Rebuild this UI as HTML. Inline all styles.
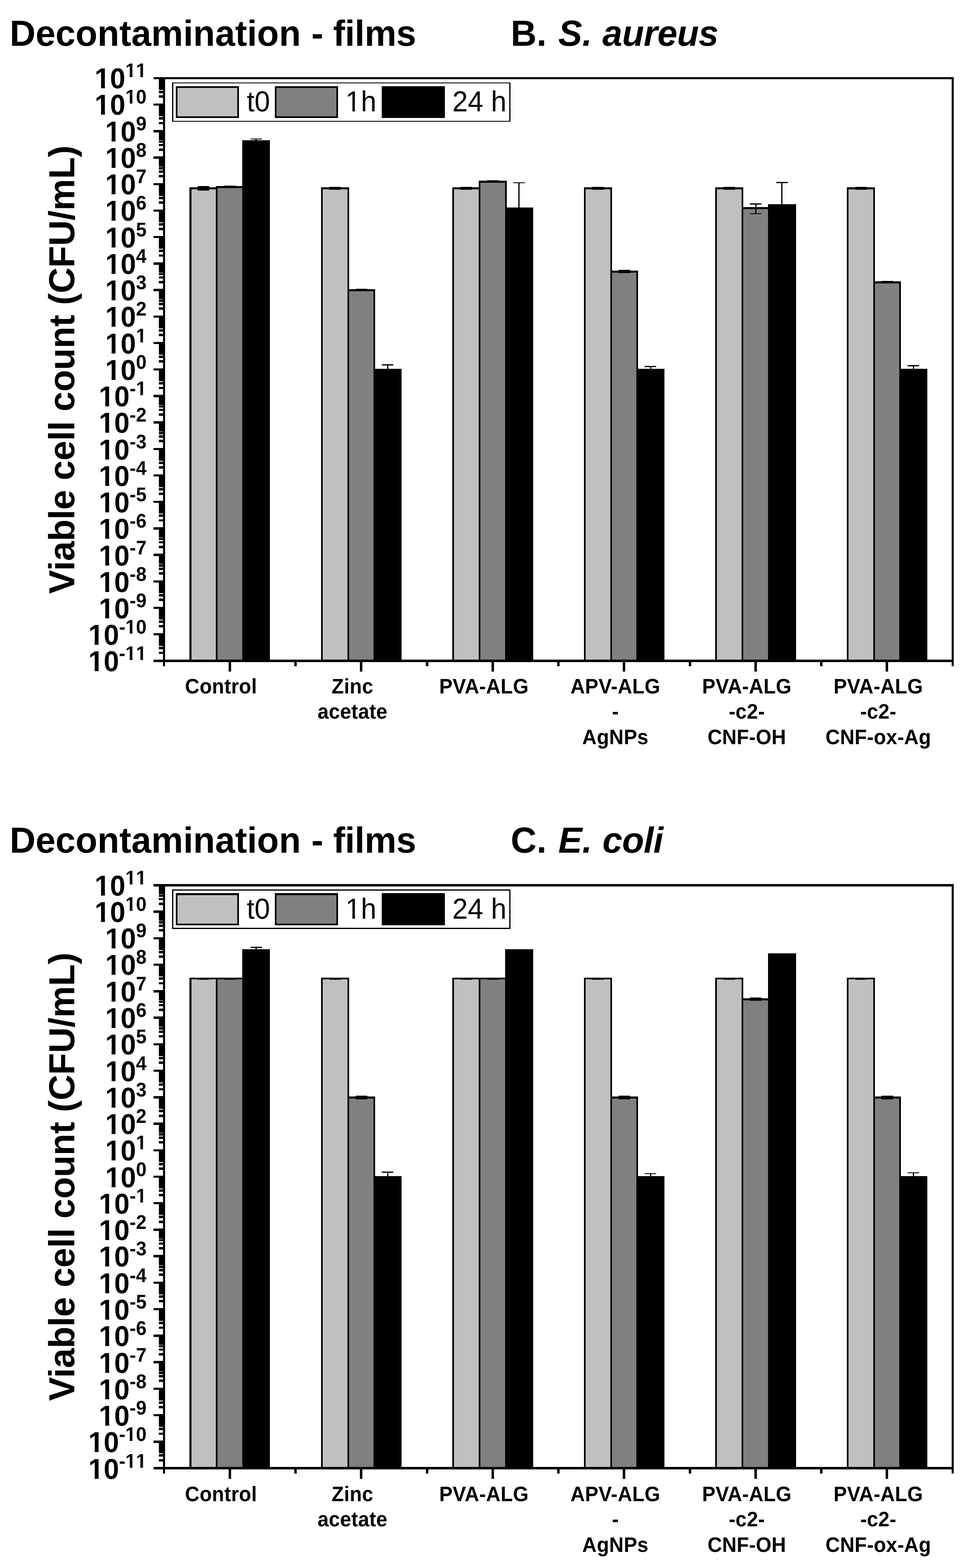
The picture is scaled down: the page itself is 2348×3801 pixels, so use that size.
<!DOCTYPE html>
<html lang="en"><head><meta charset="utf-8"><title>Decontamination - films</title>
<style>html,body{margin:0;padding:0;background:#fff}body{width:2348px;height:3801px;overflow:hidden}svg{display:block}text{font-family:'Liberation Sans', Arial, Helvetica, sans-serif;fill:#000}.tk{font-kerning:none}</style>
</head><body>
<svg width="2348" height="3801" viewBox="0 0 2348 3801" shape-rendering="crispEdges" text-rendering="geometricPrecision">
<defs><clipPath id="e11"><path clip-rule="evenodd" d="M-300 -150H60V60H-300ZM-123.36 -7.78H-110.16V3.35H-123.36ZM-100.77 -7.78H-88.99V3.35H-100.77ZM-49.56 -31.28H-40.5V-23.64H-49.56ZM-34.05 -31.28H-25.96V-23.64H-34.05ZM-23.98 -31.28H-14.92V-23.64H-23.98ZM-8.47 -31.28H-0.38V-23.64H-8.47Z"/></clipPath><clipPath id="e10"><path clip-rule="evenodd" d="M-300 -150H60V60H-300ZM-123.36 -7.78H-110.16V3.35H-123.36ZM-100.77 -7.78H-88.99V3.35H-100.77ZM-49.56 -31.28H-40.5V-23.64H-49.56ZM-34.05 -31.28H-25.96V-23.64H-34.05Z"/></clipPath><clipPath id="e9"><path clip-rule="evenodd" d="M-300 -150H60V60H-300ZM-97.77 -7.78H-84.58V3.35H-97.77ZM-75.18 -7.78H-63.4V3.35H-75.18Z"/></clipPath><clipPath id="e8"><path clip-rule="evenodd" d="M-300 -150H60V60H-300ZM-97.77 -7.78H-84.58V3.35H-97.77ZM-75.18 -7.78H-63.4V3.35H-75.18Z"/></clipPath><clipPath id="e7"><path clip-rule="evenodd" d="M-300 -150H60V60H-300ZM-97.77 -7.78H-84.58V3.35H-97.77ZM-75.18 -7.78H-63.4V3.35H-75.18Z"/></clipPath><clipPath id="e6"><path clip-rule="evenodd" d="M-300 -150H60V60H-300ZM-97.77 -7.78H-84.58V3.35H-97.77ZM-75.18 -7.78H-63.4V3.35H-75.18Z"/></clipPath><clipPath id="e5"><path clip-rule="evenodd" d="M-300 -150H60V60H-300ZM-97.77 -7.78H-84.58V3.35H-97.77ZM-75.18 -7.78H-63.4V3.35H-75.18Z"/></clipPath><clipPath id="e4"><path clip-rule="evenodd" d="M-300 -150H60V60H-300ZM-97.77 -7.78H-84.58V3.35H-97.77ZM-75.18 -7.78H-63.4V3.35H-75.18Z"/></clipPath><clipPath id="e3"><path clip-rule="evenodd" d="M-300 -150H60V60H-300ZM-97.77 -7.78H-84.58V3.35H-97.77ZM-75.18 -7.78H-63.4V3.35H-75.18Z"/></clipPath><clipPath id="e2"><path clip-rule="evenodd" d="M-300 -150H60V60H-300ZM-97.77 -7.78H-84.58V3.35H-97.77ZM-75.18 -7.78H-63.4V3.35H-75.18Z"/></clipPath><clipPath id="e1"><path clip-rule="evenodd" d="M-300 -150H60V60H-300ZM-97.77 -7.78H-84.58V3.35H-97.77ZM-75.18 -7.78H-63.4V3.35H-75.18ZM-23.98 -31.28H-14.92V-23.64H-23.98ZM-8.47 -31.28H-0.38V-23.64H-8.47Z"/></clipPath><clipPath id="e0"><path clip-rule="evenodd" d="M-300 -150H60V60H-300ZM-97.77 -7.78H-84.58V3.35H-97.77ZM-75.18 -7.78H-63.4V3.35H-75.18Z"/></clipPath><clipPath id="em1"><path clip-rule="evenodd" d="M-300 -150H60V60H-300ZM-113.09 -7.78H-99.9V3.35H-113.09ZM-90.5 -7.78H-78.72V3.35H-90.5ZM-23.98 -31.28H-14.92V-23.64H-23.98ZM-8.47 -31.28H-0.38V-23.64H-8.47Z"/></clipPath><clipPath id="em2"><path clip-rule="evenodd" d="M-300 -150H60V60H-300ZM-113.09 -7.78H-99.9V3.35H-113.09ZM-90.5 -7.78H-78.72V3.35H-90.5Z"/></clipPath><clipPath id="em3"><path clip-rule="evenodd" d="M-300 -150H60V60H-300ZM-113.09 -7.78H-99.9V3.35H-113.09ZM-90.5 -7.78H-78.72V3.35H-90.5Z"/></clipPath><clipPath id="em4"><path clip-rule="evenodd" d="M-300 -150H60V60H-300ZM-113.09 -7.78H-99.9V3.35H-113.09ZM-90.5 -7.78H-78.72V3.35H-90.5Z"/></clipPath><clipPath id="em5"><path clip-rule="evenodd" d="M-300 -150H60V60H-300ZM-113.09 -7.78H-99.9V3.35H-113.09ZM-90.5 -7.78H-78.72V3.35H-90.5Z"/></clipPath><clipPath id="em6"><path clip-rule="evenodd" d="M-300 -150H60V60H-300ZM-113.09 -7.78H-99.9V3.35H-113.09ZM-90.5 -7.78H-78.72V3.35H-90.5Z"/></clipPath><clipPath id="em7"><path clip-rule="evenodd" d="M-300 -150H60V60H-300ZM-113.09 -7.78H-99.9V3.35H-113.09ZM-90.5 -7.78H-78.72V3.35H-90.5Z"/></clipPath><clipPath id="em8"><path clip-rule="evenodd" d="M-300 -150H60V60H-300ZM-113.09 -7.78H-99.9V3.35H-113.09ZM-90.5 -7.78H-78.72V3.35H-90.5Z"/></clipPath><clipPath id="em9"><path clip-rule="evenodd" d="M-300 -150H60V60H-300ZM-113.09 -7.78H-99.9V3.35H-113.09ZM-90.5 -7.78H-78.72V3.35H-90.5Z"/></clipPath><clipPath id="em10"><path clip-rule="evenodd" d="M-300 -150H60V60H-300ZM-138.67 -7.78H-125.48V3.35H-138.67ZM-116.09 -7.78H-104.3V3.35H-116.09ZM-49.56 -31.28H-40.5V-23.64H-49.56ZM-34.05 -31.28H-25.96V-23.64H-34.05Z"/></clipPath><clipPath id="em11"><path clip-rule="evenodd" d="M-300 -150H60V60H-300ZM-138.67 -7.78H-125.48V3.35H-138.67ZM-116.09 -7.78H-104.3V3.35H-116.09ZM-49.56 -31.28H-40.5V-23.64H-49.56ZM-34.05 -31.28H-25.96V-23.64H-34.05ZM-23.98 -31.28H-14.92V-23.64H-23.98ZM-8.47 -31.28H-0.38V-23.64H-8.47Z"/></clipPath><clipPath id="lg"><path clip-rule="evenodd" d="M-20 -150H200V60H-20ZM2.36 -5.99H16.87V3.38H2.36ZM23.04 -5.99H36.99V3.38H23.04Z"/></clipPath></defs>
<rect x="0" y="0" width="2348" height="3801" fill="#fff"/>
<g id="chart-b">
<text transform="translate(23.4,110.9) scale(1,1.015)" font-size="86.8" font-weight="bold"><tspan letter-spacing="0.11">Decontamination</tspan><tspan dx="1.2"> -</tspan><tspan dx="0" letter-spacing="-0.3"> films</tspan></text>
<text transform="translate(1237.6,110.9) scale(1,1.015)" font-size="86.8" font-weight="bold">B. <tspan font-style="italic" dx="4.3">S.</tspan><tspan font-style="italic" dx="1.5" letter-spacing="-0.66"> aureus</tspan></text>
<text transform="translate(180,1439.5) rotate(-90) scale(1,1.015)" font-size="86.6" font-weight="bold" letter-spacing="-0.33">Viable cell count (CFU/mL)</text>
<text class="tk" transform="translate(355,214.1) scale(1,1.0407)" text-anchor="end" font-size="67" font-weight="bold" clip-path="url(#e11)">10<tspan font-size="46" dy="-25.94">11</tspan></text>
<text class="tk" transform="translate(355,278.35) scale(1,1.0407)" text-anchor="end" font-size="67" font-weight="bold" clip-path="url(#e10)">10<tspan font-size="46" dy="-25.94">10</tspan></text>
<text class="tk" transform="translate(355,342.59) scale(1,1.0407)" text-anchor="end" font-size="67" font-weight="bold" clip-path="url(#e9)">10<tspan font-size="46" dy="-25.94">9</tspan></text>
<text class="tk" transform="translate(355,406.84) scale(1,1.0407)" text-anchor="end" font-size="67" font-weight="bold" clip-path="url(#e8)">10<tspan font-size="46" dy="-25.94">8</tspan></text>
<text class="tk" transform="translate(355,471.08) scale(1,1.0407)" text-anchor="end" font-size="67" font-weight="bold" clip-path="url(#e7)">10<tspan font-size="46" dy="-25.94">7</tspan></text>
<text class="tk" transform="translate(355,535.33) scale(1,1.0407)" text-anchor="end" font-size="67" font-weight="bold" clip-path="url(#e6)">10<tspan font-size="46" dy="-25.94">6</tspan></text>
<text class="tk" transform="translate(355,599.57) scale(1,1.0407)" text-anchor="end" font-size="67" font-weight="bold" clip-path="url(#e5)">10<tspan font-size="46" dy="-25.94">5</tspan></text>
<text class="tk" transform="translate(355,663.82) scale(1,1.0407)" text-anchor="end" font-size="67" font-weight="bold" clip-path="url(#e4)">10<tspan font-size="46" dy="-25.94">4</tspan></text>
<text class="tk" transform="translate(355,728.06) scale(1,1.0407)" text-anchor="end" font-size="67" font-weight="bold" clip-path="url(#e3)">10<tspan font-size="46" dy="-25.94">3</tspan></text>
<text class="tk" transform="translate(355,792.31) scale(1,1.0407)" text-anchor="end" font-size="67" font-weight="bold" clip-path="url(#e2)">10<tspan font-size="46" dy="-25.94">2</tspan></text>
<text class="tk" transform="translate(355,856.55) scale(1,1.0407)" text-anchor="end" font-size="67" font-weight="bold" clip-path="url(#e1)">10<tspan font-size="46" dy="-25.94">1</tspan></text>
<text class="tk" transform="translate(355,920.8) scale(1,1.0407)" text-anchor="end" font-size="67" font-weight="bold" clip-path="url(#e0)">10<tspan font-size="46" dy="-25.94">0</tspan></text>
<text class="tk" transform="translate(355,985.04) scale(1,1.0407)" text-anchor="end" font-size="67" font-weight="bold" clip-path="url(#em1)">10<tspan font-size="46" dy="-25.94">-1</tspan></text>
<text class="tk" transform="translate(355,1049.28) scale(1,1.0407)" text-anchor="end" font-size="67" font-weight="bold" clip-path="url(#em2)">10<tspan font-size="46" dy="-25.94">-2</tspan></text>
<text class="tk" transform="translate(355,1113.53) scale(1,1.0407)" text-anchor="end" font-size="67" font-weight="bold" clip-path="url(#em3)">10<tspan font-size="46" dy="-25.94">-3</tspan></text>
<text class="tk" transform="translate(355,1177.77) scale(1,1.0407)" text-anchor="end" font-size="67" font-weight="bold" clip-path="url(#em4)">10<tspan font-size="46" dy="-25.94">-4</tspan></text>
<text class="tk" transform="translate(355,1242.02) scale(1,1.0407)" text-anchor="end" font-size="67" font-weight="bold" clip-path="url(#em5)">10<tspan font-size="46" dy="-25.94">-5</tspan></text>
<text class="tk" transform="translate(355,1306.27) scale(1,1.0407)" text-anchor="end" font-size="67" font-weight="bold" clip-path="url(#em6)">10<tspan font-size="46" dy="-25.94">-6</tspan></text>
<text class="tk" transform="translate(355,1370.51) scale(1,1.0407)" text-anchor="end" font-size="67" font-weight="bold" clip-path="url(#em7)">10<tspan font-size="46" dy="-25.94">-7</tspan></text>
<text class="tk" transform="translate(355,1434.75) scale(1,1.0407)" text-anchor="end" font-size="67" font-weight="bold" clip-path="url(#em8)">10<tspan font-size="46" dy="-25.94">-8</tspan></text>
<text class="tk" transform="translate(355,1499) scale(1,1.0407)" text-anchor="end" font-size="67" font-weight="bold" clip-path="url(#em9)">10<tspan font-size="46" dy="-25.94">-9</tspan></text>
<text class="tk" transform="translate(355,1563.24) scale(1,1.0407)" text-anchor="end" font-size="67" font-weight="bold" clip-path="url(#em10)">10<tspan font-size="46" dy="-25.94">-10</tspan></text>
<text class="tk" transform="translate(355,1627.49) scale(1,1.0407)" text-anchor="end" font-size="67" font-weight="bold" clip-path="url(#em11)">10<tspan font-size="46" dy="-25.94">-11</tspan></text>
<rect x="459" y="454" width="68" height="1146" fill="#000"/>
<rect x="464" y="459" width="59" height="1141" fill="#c0c0c0"/>
<rect x="523" y="451" width="68" height="1149" fill="#000"/>
<rect x="527" y="456" width="60" height="1144" fill="#808080"/>
<rect x="587" y="340" width="67" height="1260" fill="#000"/>
<rect x="479.3" y="451" width="28" height="10.7" fill="#000"/>
<rect x="543.4" y="449.8" width="28" height="3.3" fill="#000"/>
<rect x="606.8" y="335.7" width="28" height="2.6" fill="#000"/>
<rect x="619.3" y="337" width="3" height="4.2" fill="#000"/>
<rect x="778" y="454" width="68" height="1146" fill="#000"/>
<rect x="782" y="459" width="60" height="1141" fill="#c0c0c0"/>
<rect x="842" y="701" width="67" height="899" fill="#000"/>
<rect x="846" y="706" width="59" height="894" fill="#808080"/>
<rect x="906" y="894" width="67" height="706" fill="#000"/>
<rect x="797.75" y="453" width="28" height="7" fill="#000"/>
<rect x="861.85" y="699.8" width="28" height="3.2" fill="#000"/>
<rect x="925.25" y="883.1" width="28" height="2.6" fill="#000"/>
<rect x="937.75" y="884.4" width="3" height="10.4" fill="#000"/>
<rect x="1096" y="454" width="68" height="1146" fill="#000"/>
<rect x="1100" y="459" width="60" height="1141" fill="#c0c0c0"/>
<rect x="1160" y="438" width="68" height="1162" fill="#000"/>
<rect x="1164" y="443" width="60" height="1157" fill="#808080"/>
<rect x="1224" y="503" width="68" height="1097" fill="#000"/>
<rect x="1116.2" y="453" width="28" height="7" fill="#000"/>
<rect x="1180.3" y="436.8" width="28" height="3.3" fill="#000"/>
<rect x="1243.7" y="441.7" width="28" height="2.6" fill="#000"/>
<rect x="1256.2" y="443" width="3" height="60.9" fill="#000"/>
<rect x="1415" y="454" width="68" height="1146" fill="#000"/>
<rect x="1419" y="459" width="60" height="1141" fill="#c0c0c0"/>
<rect x="1479" y="656" width="67" height="944" fill="#000"/>
<rect x="1483" y="661" width="59" height="939" fill="#808080"/>
<rect x="1543" y="894" width="67" height="706" fill="#000"/>
<rect x="1434.65" y="453" width="28" height="7" fill="#000"/>
<rect x="1498.75" y="653.8" width="28" height="8.1" fill="#000"/>
<rect x="1562.15" y="887.2" width="28" height="2.6" fill="#000"/>
<rect x="1574.65" y="888.5" width="3" height="6.3" fill="#000"/>
<rect x="1733" y="454" width="68" height="1146" fill="#000"/>
<rect x="1737" y="459" width="60" height="1141" fill="#c0c0c0"/>
<rect x="1797" y="502" width="68" height="1098" fill="#000"/>
<rect x="1801" y="507" width="60" height="1093" fill="#808080"/>
<rect x="1861" y="495" width="68" height="1105" fill="#000"/>
<rect x="1753.1" y="453" width="28" height="7" fill="#000"/>
<rect x="1817.2" y="493.3" width="28" height="2.6" fill="#000"/>
<rect x="1817.2" y="516.7" width="28" height="2.6" fill="#000"/>
<rect x="1829.7" y="494.6" width="3" height="23.4" fill="#000"/>
<rect x="1880.6" y="441.2" width="28" height="2.6" fill="#000"/>
<rect x="1893.1" y="442.5" width="3" height="53.7" fill="#000"/>
<rect x="2052" y="454" width="68" height="1146" fill="#000"/>
<rect x="2056" y="459" width="60" height="1141" fill="#c0c0c0"/>
<rect x="2116" y="682" width="67" height="918" fill="#000"/>
<rect x="2120" y="687" width="59" height="913" fill="#808080"/>
<rect x="2180" y="894" width="67" height="706" fill="#000"/>
<rect x="2071.55" y="453" width="28" height="7" fill="#000"/>
<rect x="2135.65" y="681" width="28" height="6" fill="#000"/>
<rect x="2199.05" y="885.1" width="28" height="2.6" fill="#000"/>
<rect x="2211.55" y="886.4" width="3" height="8.6" fill="#000"/>
<rect x="395" y="187" width="5" height="1418" fill="#000"/>
<rect x="2306" y="187" width="5" height="1418" fill="#000"/>
<rect x="372" y="187" width="1939" height="5" fill="#000"/>
<rect x="372" y="1599" width="1939" height="6" fill="#000"/>
<rect x="372" y="251" width="24" height="5" fill="#000"/>
<rect x="372" y="315" width="24" height="6" fill="#000"/>
<rect x="372" y="379" width="24" height="6" fill="#000"/>
<rect x="372" y="444" width="24" height="5" fill="#000"/>
<rect x="372" y="508" width="24" height="5" fill="#000"/>
<rect x="372" y="572" width="24" height="5" fill="#000"/>
<rect x="372" y="636" width="24" height="6" fill="#000"/>
<rect x="372" y="700" width="24" height="6" fill="#000"/>
<rect x="372" y="765" width="24" height="5" fill="#000"/>
<rect x="372" y="829" width="24" height="5" fill="#000"/>
<rect x="372" y="893" width="24" height="5" fill="#000"/>
<rect x="372" y="957" width="24" height="6" fill="#000"/>
<rect x="372" y="1021" width="24" height="6" fill="#000"/>
<rect x="372" y="1086" width="24" height="5" fill="#000"/>
<rect x="372" y="1150" width="24" height="5" fill="#000"/>
<rect x="372" y="1214" width="24" height="5" fill="#000"/>
<rect x="372" y="1278" width="24" height="6" fill="#000"/>
<rect x="372" y="1342" width="24" height="6" fill="#000"/>
<rect x="372" y="1407" width="24" height="5" fill="#000"/>
<rect x="372" y="1471" width="24" height="5" fill="#000"/>
<rect x="372" y="1535" width="24" height="5" fill="#000"/>
<rect x="385" y="231" width="11" height="6" fill="#000"/>
<rect x="385" y="220" width="11" height="6" fill="#000"/>
<rect x="385" y="212" width="11" height="6" fill="#000"/>
<rect x="385" y="206" width="11" height="6" fill="#000"/>
<rect x="385" y="201" width="11" height="6" fill="#000"/>
<rect x="385" y="197" width="11" height="5" fill="#000"/>
<rect x="385" y="193" width="11" height="6" fill="#000"/>
<rect x="385" y="190" width="11" height="5" fill="#000"/>
<rect x="385" y="296" width="11" height="5" fill="#000"/>
<rect x="385" y="284" width="11" height="6" fill="#000"/>
<rect x="385" y="276" width="11" height="6" fill="#000"/>
<rect x="385" y="270" width="11" height="6" fill="#000"/>
<rect x="385" y="265" width="11" height="6" fill="#000"/>
<rect x="385" y="261" width="11" height="6" fill="#000"/>
<rect x="385" y="257" width="11" height="6" fill="#000"/>
<rect x="385" y="254" width="11" height="6" fill="#000"/>
<rect x="385" y="360" width="11" height="6" fill="#000"/>
<rect x="385" y="349" width="11" height="5" fill="#000"/>
<rect x="385" y="341" width="11" height="5" fill="#000"/>
<rect x="385" y="334" width="11" height="6" fill="#000"/>
<rect x="385" y="329" width="11" height="6" fill="#000"/>
<rect x="385" y="325" width="11" height="6" fill="#000"/>
<rect x="385" y="321" width="11" height="6" fill="#000"/>
<rect x="385" y="318" width="11" height="6" fill="#000"/>
<rect x="385" y="424" width="11" height="6" fill="#000"/>
<rect x="385" y="413" width="11" height="6" fill="#000"/>
<rect x="385" y="405" width="11" height="6" fill="#000"/>
<rect x="385" y="399" width="11" height="5" fill="#000"/>
<rect x="385" y="393" width="11" height="6" fill="#000"/>
<rect x="385" y="389" width="11" height="6" fill="#000"/>
<rect x="385" y="385" width="11" height="6" fill="#000"/>
<rect x="385" y="382" width="11" height="6" fill="#000"/>
<rect x="385" y="488" width="11" height="6" fill="#000"/>
<rect x="385" y="477" width="11" height="6" fill="#000"/>
<rect x="385" y="469" width="11" height="6" fill="#000"/>
<rect x="385" y="463" width="11" height="6" fill="#000"/>
<rect x="385" y="458" width="11" height="5" fill="#000"/>
<rect x="385" y="453" width="11" height="6" fill="#000"/>
<rect x="385" y="450" width="11" height="5" fill="#000"/>
<rect x="385" y="446" width="11" height="6" fill="#000"/>
<rect x="385" y="552" width="11" height="6" fill="#000"/>
<rect x="385" y="541" width="11" height="6" fill="#000"/>
<rect x="385" y="533" width="11" height="6" fill="#000"/>
<rect x="385" y="527" width="11" height="6" fill="#000"/>
<rect x="385" y="522" width="11" height="6" fill="#000"/>
<rect x="385" y="518" width="11" height="5" fill="#000"/>
<rect x="385" y="514" width="11" height="6" fill="#000"/>
<rect x="385" y="511" width="11" height="5" fill="#000"/>
<rect x="385" y="617" width="11" height="5" fill="#000"/>
<rect x="385" y="605" width="11" height="6" fill="#000"/>
<rect x="385" y="597" width="11" height="6" fill="#000"/>
<rect x="385" y="591" width="11" height="6" fill="#000"/>
<rect x="385" y="586" width="11" height="6" fill="#000"/>
<rect x="385" y="582" width="11" height="6" fill="#000"/>
<rect x="385" y="578" width="11" height="6" fill="#000"/>
<rect x="385" y="575" width="11" height="6" fill="#000"/>
<rect x="385" y="681" width="11" height="6" fill="#000"/>
<rect x="385" y="670" width="11" height="5" fill="#000"/>
<rect x="385" y="662" width="11" height="5" fill="#000"/>
<rect x="385" y="655" width="11" height="6" fill="#000"/>
<rect x="385" y="650" width="11" height="6" fill="#000"/>
<rect x="385" y="646" width="11" height="6" fill="#000"/>
<rect x="385" y="642" width="11" height="6" fill="#000"/>
<rect x="385" y="639" width="11" height="6" fill="#000"/>
<rect x="385" y="745" width="11" height="6" fill="#000"/>
<rect x="385" y="734" width="11" height="6" fill="#000"/>
<rect x="385" y="726" width="11" height="6" fill="#000"/>
<rect x="385" y="720" width="11" height="5" fill="#000"/>
<rect x="385" y="714" width="11" height="6" fill="#000"/>
<rect x="385" y="710" width="11" height="6" fill="#000"/>
<rect x="385" y="706" width="11" height="6" fill="#000"/>
<rect x="385" y="703" width="11" height="6" fill="#000"/>
<rect x="385" y="809" width="11" height="6" fill="#000"/>
<rect x="385" y="798" width="11" height="6" fill="#000"/>
<rect x="385" y="790" width="11" height="6" fill="#000"/>
<rect x="385" y="784" width="11" height="6" fill="#000"/>
<rect x="385" y="779" width="11" height="5" fill="#000"/>
<rect x="385" y="774" width="11" height="6" fill="#000"/>
<rect x="385" y="771" width="11" height="5" fill="#000"/>
<rect x="385" y="767" width="11" height="6" fill="#000"/>
<rect x="385" y="873" width="11" height="6" fill="#000"/>
<rect x="385" y="862" width="11" height="6" fill="#000"/>
<rect x="385" y="854" width="11" height="6" fill="#000"/>
<rect x="385" y="848" width="11" height="6" fill="#000"/>
<rect x="385" y="843" width="11" height="6" fill="#000"/>
<rect x="385" y="839" width="11" height="5" fill="#000"/>
<rect x="385" y="835" width="11" height="6" fill="#000"/>
<rect x="385" y="832" width="11" height="5" fill="#000"/>
<rect x="385" y="938" width="11" height="5" fill="#000"/>
<rect x="385" y="926" width="11" height="6" fill="#000"/>
<rect x="385" y="918" width="11" height="6" fill="#000"/>
<rect x="385" y="912" width="11" height="6" fill="#000"/>
<rect x="385" y="907" width="11" height="6" fill="#000"/>
<rect x="385" y="903" width="11" height="6" fill="#000"/>
<rect x="385" y="899" width="11" height="6" fill="#000"/>
<rect x="385" y="896" width="11" height="6" fill="#000"/>
<rect x="385" y="1002" width="11" height="6" fill="#000"/>
<rect x="385" y="991" width="11" height="5" fill="#000"/>
<rect x="385" y="983" width="11" height="5" fill="#000"/>
<rect x="385" y="976" width="11" height="6" fill="#000"/>
<rect x="385" y="971" width="11" height="6" fill="#000"/>
<rect x="385" y="967" width="11" height="6" fill="#000"/>
<rect x="385" y="963" width="11" height="6" fill="#000"/>
<rect x="385" y="960" width="11" height="6" fill="#000"/>
<rect x="385" y="1066" width="11" height="6" fill="#000"/>
<rect x="385" y="1055" width="11" height="6" fill="#000"/>
<rect x="385" y="1047" width="11" height="6" fill="#000"/>
<rect x="385" y="1041" width="11" height="5" fill="#000"/>
<rect x="385" y="1035" width="11" height="6" fill="#000"/>
<rect x="385" y="1031" width="11" height="6" fill="#000"/>
<rect x="385" y="1027" width="11" height="6" fill="#000"/>
<rect x="385" y="1024" width="11" height="6" fill="#000"/>
<rect x="385" y="1130" width="11" height="6" fill="#000"/>
<rect x="385" y="1119" width="11" height="6" fill="#000"/>
<rect x="385" y="1111" width="11" height="6" fill="#000"/>
<rect x="385" y="1105" width="11" height="6" fill="#000"/>
<rect x="385" y="1100" width="11" height="5" fill="#000"/>
<rect x="385" y="1095" width="11" height="6" fill="#000"/>
<rect x="385" y="1092" width="11" height="5" fill="#000"/>
<rect x="385" y="1088" width="11" height="6" fill="#000"/>
<rect x="385" y="1194" width="11" height="6" fill="#000"/>
<rect x="385" y="1183" width="11" height="6" fill="#000"/>
<rect x="385" y="1175" width="11" height="6" fill="#000"/>
<rect x="385" y="1169" width="11" height="6" fill="#000"/>
<rect x="385" y="1164" width="11" height="6" fill="#000"/>
<rect x="385" y="1160" width="11" height="5" fill="#000"/>
<rect x="385" y="1156" width="11" height="6" fill="#000"/>
<rect x="385" y="1153" width="11" height="5" fill="#000"/>
<rect x="385" y="1259" width="11" height="5" fill="#000"/>
<rect x="385" y="1247" width="11" height="6" fill="#000"/>
<rect x="385" y="1239" width="11" height="6" fill="#000"/>
<rect x="385" y="1233" width="11" height="6" fill="#000"/>
<rect x="385" y="1228" width="11" height="6" fill="#000"/>
<rect x="385" y="1224" width="11" height="6" fill="#000"/>
<rect x="385" y="1220" width="11" height="6" fill="#000"/>
<rect x="385" y="1217" width="11" height="6" fill="#000"/>
<rect x="385" y="1323" width="11" height="6" fill="#000"/>
<rect x="385" y="1312" width="11" height="5" fill="#000"/>
<rect x="385" y="1304" width="11" height="5" fill="#000"/>
<rect x="385" y="1297" width="11" height="6" fill="#000"/>
<rect x="385" y="1292" width="11" height="6" fill="#000"/>
<rect x="385" y="1288" width="11" height="6" fill="#000"/>
<rect x="385" y="1284" width="11" height="6" fill="#000"/>
<rect x="385" y="1281" width="11" height="6" fill="#000"/>
<rect x="385" y="1387" width="11" height="6" fill="#000"/>
<rect x="385" y="1376" width="11" height="6" fill="#000"/>
<rect x="385" y="1368" width="11" height="6" fill="#000"/>
<rect x="385" y="1362" width="11" height="5" fill="#000"/>
<rect x="385" y="1356" width="11" height="6" fill="#000"/>
<rect x="385" y="1352" width="11" height="6" fill="#000"/>
<rect x="385" y="1348" width="11" height="6" fill="#000"/>
<rect x="385" y="1345" width="11" height="6" fill="#000"/>
<rect x="385" y="1451" width="11" height="6" fill="#000"/>
<rect x="385" y="1440" width="11" height="6" fill="#000"/>
<rect x="385" y="1432" width="11" height="6" fill="#000"/>
<rect x="385" y="1426" width="11" height="6" fill="#000"/>
<rect x="385" y="1421" width="11" height="5" fill="#000"/>
<rect x="385" y="1416" width="11" height="6" fill="#000"/>
<rect x="385" y="1413" width="11" height="5" fill="#000"/>
<rect x="385" y="1409" width="11" height="6" fill="#000"/>
<rect x="385" y="1515" width="11" height="6" fill="#000"/>
<rect x="385" y="1504" width="11" height="6" fill="#000"/>
<rect x="385" y="1496" width="11" height="6" fill="#000"/>
<rect x="385" y="1490" width="11" height="6" fill="#000"/>
<rect x="385" y="1485" width="11" height="6" fill="#000"/>
<rect x="385" y="1481" width="11" height="5" fill="#000"/>
<rect x="385" y="1477" width="11" height="6" fill="#000"/>
<rect x="385" y="1474" width="11" height="5" fill="#000"/>
<rect x="385" y="1580" width="11" height="5" fill="#000"/>
<rect x="385" y="1568" width="11" height="6" fill="#000"/>
<rect x="385" y="1560" width="11" height="6" fill="#000"/>
<rect x="385" y="1554" width="11" height="6" fill="#000"/>
<rect x="385" y="1549" width="11" height="6" fill="#000"/>
<rect x="385" y="1545" width="11" height="6" fill="#000"/>
<rect x="385" y="1541" width="11" height="6" fill="#000"/>
<rect x="385" y="1538" width="11" height="6" fill="#000"/>
<rect x="395" y="1604" width="5" height="11" fill="#000"/>
<rect x="713" y="1604" width="6" height="11" fill="#000"/>
<rect x="1032" y="1604" width="6" height="11" fill="#000"/>
<rect x="1350" y="1604" width="6" height="11" fill="#000"/>
<rect x="1669" y="1604" width="6" height="11" fill="#000"/>
<rect x="1987" y="1604" width="6" height="11" fill="#000"/>
<rect x="2306" y="1604" width="5" height="11" fill="#000"/>
<rect x="554" y="1604" width="6" height="24" fill="#000"/>
<text transform="translate(535.56,1680.8) scale(1,1.05)" font-size="48.5" font-weight="bold" text-anchor="middle" letter-spacing="0.3">Control</text>
<rect x="872" y="1604" width="6" height="24" fill="#000"/>
<text transform="translate(854.07,1680.8) scale(1,1.05)" font-size="48.5" font-weight="bold" text-anchor="middle" letter-spacing="0.3">Zinc</text>
<text transform="translate(854.07,1742.3) scale(1,1.05)" font-size="48.5" font-weight="bold" text-anchor="middle" letter-spacing="0.3">acetate</text>
<rect x="1191" y="1604" width="6" height="24" fill="#000"/>
<text transform="translate(1172.59,1680.8) scale(1,1.05)" font-size="48.5" font-weight="bold" text-anchor="middle" letter-spacing="0.3">PVA-ALG</text>
<rect x="1509" y="1604" width="6" height="24" fill="#000"/>
<text transform="translate(1491.11,1680.8) scale(1,1.05)" font-size="48.5" font-weight="bold" text-anchor="middle" letter-spacing="0.3">APV-ALG</text>
<text transform="translate(1491.11,1742.3) scale(1,1.05)" font-size="48.5" font-weight="bold" text-anchor="middle" letter-spacing="0.3">-</text>
<text transform="translate(1491.11,1803.8) scale(1,1.05)" font-size="48.5" font-weight="bold" text-anchor="middle" letter-spacing="0.3">AgNPs</text>
<rect x="1828" y="1604" width="6" height="24" fill="#000"/>
<text transform="translate(1809.62,1680.8) scale(1,1.05)" font-size="48.5" font-weight="bold" text-anchor="middle" letter-spacing="0.3">PVA-ALG</text>
<text transform="translate(1809.62,1742.3) scale(1,1.05)" font-size="48.5" font-weight="bold" text-anchor="middle" letter-spacing="0.3">-c2-</text>
<text transform="translate(1809.62,1803.8) scale(1,1.05)" font-size="48.5" font-weight="bold" text-anchor="middle" letter-spacing="0.3">CNF-OH</text>
<rect x="2146" y="1604" width="6" height="24" fill="#000"/>
<text transform="translate(2128.14,1680.8) scale(1,1.05)" font-size="48.5" font-weight="bold" text-anchor="middle" letter-spacing="0.3">PVA-ALG</text>
<text transform="translate(2128.14,1742.3) scale(1,1.05)" font-size="48.5" font-weight="bold" text-anchor="middle" letter-spacing="0.3">-c2-</text>
<text transform="translate(2128.14,1803.8) scale(1,1.05)" font-size="48.5" font-weight="bold" text-anchor="middle" letter-spacing="0.3">CNF-ox-Ag</text>
<rect x="417" y="200" width="820" height="95" fill="#000"/>
<rect x="420" y="202" width="814" height="91" fill="#fff"/>
<rect x="426" y="209" width="153" height="77" fill="#000"/>
<rect x="430" y="213" width="145" height="69" fill="#c0c0c0"/>
<rect x="666" y="209" width="153" height="77" fill="#000"/>
<rect x="670" y="213" width="145" height="69" fill="#808080"/>
<rect x="925" y="209" width="153" height="77" fill="#000"/>
<rect x="929" y="213" width="145" height="69" fill="#000000"/>
<text transform="translate(598,270.3) scale(1,1.0407)" font-size="67.5">t0</text>
<text transform="translate(837,270.3) scale(1,1.0407)" font-size="67.5" class="tk" clip-path="url(#lg)">1h</text>
<text transform="translate(1096,270.3) scale(1,1.0407)" font-size="67.5">24 h</text>
</g>
<g id="chart-c">
<text transform="translate(23.4,2067.4) scale(1,1.015)" font-size="86.8" font-weight="bold"><tspan letter-spacing="0.11">Decontamination</tspan><tspan dx="1.2"> -</tspan><tspan dx="0" letter-spacing="-0.3"> films</tspan></text>
<text transform="translate(1237.6,2067.4) scale(1,1.015)" font-size="86.8" font-weight="bold">C. <tspan font-style="italic" dx="4.3">E.</tspan><tspan font-style="italic" dx="1.5" letter-spacing="-0.66"> coli</tspan></text>
<text transform="translate(180,3396) rotate(-90) scale(1,1.015)" font-size="86.6" font-weight="bold" letter-spacing="-0.33">Viable cell count (CFU/mL)</text>
<text class="tk" transform="translate(355,2170.6) scale(1,1.0407)" text-anchor="end" font-size="67" font-weight="bold" clip-path="url(#e11)">10<tspan font-size="46" dy="-25.94">11</tspan></text>
<text class="tk" transform="translate(355,2234.87) scale(1,1.0407)" text-anchor="end" font-size="67" font-weight="bold" clip-path="url(#e10)">10<tspan font-size="46" dy="-25.94">10</tspan></text>
<text class="tk" transform="translate(355,2299.14) scale(1,1.0407)" text-anchor="end" font-size="67" font-weight="bold" clip-path="url(#e9)">10<tspan font-size="46" dy="-25.94">9</tspan></text>
<text class="tk" transform="translate(355,2363.42) scale(1,1.0407)" text-anchor="end" font-size="67" font-weight="bold" clip-path="url(#e8)">10<tspan font-size="46" dy="-25.94">8</tspan></text>
<text class="tk" transform="translate(355,2427.69) scale(1,1.0407)" text-anchor="end" font-size="67" font-weight="bold" clip-path="url(#e7)">10<tspan font-size="46" dy="-25.94">7</tspan></text>
<text class="tk" transform="translate(355,2491.96) scale(1,1.0407)" text-anchor="end" font-size="67" font-weight="bold" clip-path="url(#e6)">10<tspan font-size="46" dy="-25.94">6</tspan></text>
<text class="tk" transform="translate(355,2556.23) scale(1,1.0407)" text-anchor="end" font-size="67" font-weight="bold" clip-path="url(#e5)">10<tspan font-size="46" dy="-25.94">5</tspan></text>
<text class="tk" transform="translate(355,2620.5) scale(1,1.0407)" text-anchor="end" font-size="67" font-weight="bold" clip-path="url(#e4)">10<tspan font-size="46" dy="-25.94">4</tspan></text>
<text class="tk" transform="translate(355,2684.78) scale(1,1.0407)" text-anchor="end" font-size="67" font-weight="bold" clip-path="url(#e3)">10<tspan font-size="46" dy="-25.94">3</tspan></text>
<text class="tk" transform="translate(355,2749.05) scale(1,1.0407)" text-anchor="end" font-size="67" font-weight="bold" clip-path="url(#e2)">10<tspan font-size="46" dy="-25.94">2</tspan></text>
<text class="tk" transform="translate(355,2813.32) scale(1,1.0407)" text-anchor="end" font-size="67" font-weight="bold" clip-path="url(#e1)">10<tspan font-size="46" dy="-25.94">1</tspan></text>
<text class="tk" transform="translate(355,2877.59) scale(1,1.0407)" text-anchor="end" font-size="67" font-weight="bold" clip-path="url(#e0)">10<tspan font-size="46" dy="-25.94">0</tspan></text>
<text class="tk" transform="translate(355,2941.86) scale(1,1.0407)" text-anchor="end" font-size="67" font-weight="bold" clip-path="url(#em1)">10<tspan font-size="46" dy="-25.94">-1</tspan></text>
<text class="tk" transform="translate(355,3006.14) scale(1,1.0407)" text-anchor="end" font-size="67" font-weight="bold" clip-path="url(#em2)">10<tspan font-size="46" dy="-25.94">-2</tspan></text>
<text class="tk" transform="translate(355,3070.41) scale(1,1.0407)" text-anchor="end" font-size="67" font-weight="bold" clip-path="url(#em3)">10<tspan font-size="46" dy="-25.94">-3</tspan></text>
<text class="tk" transform="translate(355,3134.68) scale(1,1.0407)" text-anchor="end" font-size="67" font-weight="bold" clip-path="url(#em4)">10<tspan font-size="46" dy="-25.94">-4</tspan></text>
<text class="tk" transform="translate(355,3198.95) scale(1,1.0407)" text-anchor="end" font-size="67" font-weight="bold" clip-path="url(#em5)">10<tspan font-size="46" dy="-25.94">-5</tspan></text>
<text class="tk" transform="translate(355,3263.22) scale(1,1.0407)" text-anchor="end" font-size="67" font-weight="bold" clip-path="url(#em6)">10<tspan font-size="46" dy="-25.94">-6</tspan></text>
<text class="tk" transform="translate(355,3327.5) scale(1,1.0407)" text-anchor="end" font-size="67" font-weight="bold" clip-path="url(#em7)">10<tspan font-size="46" dy="-25.94">-7</tspan></text>
<text class="tk" transform="translate(355,3391.77) scale(1,1.0407)" text-anchor="end" font-size="67" font-weight="bold" clip-path="url(#em8)">10<tspan font-size="46" dy="-25.94">-8</tspan></text>
<text class="tk" transform="translate(355,3456.04) scale(1,1.0407)" text-anchor="end" font-size="67" font-weight="bold" clip-path="url(#em9)">10<tspan font-size="46" dy="-25.94">-9</tspan></text>
<text class="tk" transform="translate(355,3520.31) scale(1,1.0407)" text-anchor="end" font-size="67" font-weight="bold" clip-path="url(#em10)">10<tspan font-size="46" dy="-25.94">-10</tspan></text>
<text class="tk" transform="translate(355,3584.58) scale(1,1.0407)" text-anchor="end" font-size="67" font-weight="bold" clip-path="url(#em11)">10<tspan font-size="46" dy="-25.94">-11</tspan></text>
<rect x="459" y="2370" width="68" height="1187" fill="#000"/>
<rect x="464" y="2374" width="59" height="1183" fill="#c0c0c0"/>
<rect x="523" y="2370" width="68" height="1187" fill="#000"/>
<rect x="527" y="2374" width="60" height="1183" fill="#808080"/>
<rect x="587" y="2301" width="67" height="1256" fill="#000"/>
<rect x="479.3" y="2373" width="28" height="2" fill="#000"/>
<rect x="543.4" y="2373" width="28" height="2" fill="#000"/>
<rect x="606.8" y="2295.2" width="28" height="2.6" fill="#000"/>
<rect x="619.3" y="2296.5" width="3" height="5.2" fill="#000"/>
<rect x="778" y="2370" width="68" height="1187" fill="#000"/>
<rect x="782" y="2374" width="60" height="1183" fill="#c0c0c0"/>
<rect x="842" y="2658" width="67" height="899" fill="#000"/>
<rect x="846" y="2663" width="59" height="894" fill="#808080"/>
<rect x="906" y="2851" width="67" height="706" fill="#000"/>
<rect x="797.75" y="2373" width="28" height="2" fill="#000"/>
<rect x="861.85" y="2655.9" width="28" height="9.1" fill="#000"/>
<rect x="925.25" y="2840.1" width="28" height="2.6" fill="#000"/>
<rect x="937.75" y="2841.4" width="3" height="10.6" fill="#000"/>
<rect x="1096" y="2370" width="68" height="1187" fill="#000"/>
<rect x="1100" y="2374" width="60" height="1183" fill="#c0c0c0"/>
<rect x="1160" y="2370" width="68" height="1187" fill="#000"/>
<rect x="1164" y="2374" width="60" height="1183" fill="#808080"/>
<rect x="1224" y="2301" width="68" height="1256" fill="#000"/>
<rect x="1116.2" y="2373" width="28" height="2" fill="#000"/>
<rect x="1180.3" y="2373" width="28" height="2" fill="#000"/>
<rect x="1415" y="2370" width="68" height="1187" fill="#000"/>
<rect x="1419" y="2374" width="60" height="1183" fill="#c0c0c0"/>
<rect x="1479" y="2658" width="67" height="899" fill="#000"/>
<rect x="1483" y="2663" width="59" height="894" fill="#808080"/>
<rect x="1543" y="2851" width="67" height="706" fill="#000"/>
<rect x="1434.65" y="2373" width="28" height="2" fill="#000"/>
<rect x="1498.75" y="2655.9" width="28" height="9.1" fill="#000"/>
<rect x="1562.15" y="2843.7" width="28" height="2.6" fill="#000"/>
<rect x="1574.65" y="2845" width="3" height="7" fill="#000"/>
<rect x="1733" y="2370" width="68" height="1187" fill="#000"/>
<rect x="1737" y="2374" width="60" height="1183" fill="#c0c0c0"/>
<rect x="1797" y="2420" width="68" height="1137" fill="#000"/>
<rect x="1801" y="2425" width="60" height="1132" fill="#808080"/>
<rect x="1861" y="2311" width="68" height="1246" fill="#000"/>
<rect x="1753.1" y="2373" width="28" height="2" fill="#000"/>
<rect x="1817.2" y="2417.5" width="28" height="8.8" fill="#000"/>
<rect x="2052" y="2370" width="68" height="1187" fill="#000"/>
<rect x="2056" y="2374" width="60" height="1183" fill="#c0c0c0"/>
<rect x="2116" y="2658" width="67" height="899" fill="#000"/>
<rect x="2120" y="2663" width="59" height="894" fill="#808080"/>
<rect x="2180" y="2851" width="67" height="706" fill="#000"/>
<rect x="2071.55" y="2373" width="28" height="2" fill="#000"/>
<rect x="2135.65" y="2655.9" width="28" height="9.1" fill="#000"/>
<rect x="2199.05" y="2841.7" width="28" height="2.6" fill="#000"/>
<rect x="2211.55" y="2843" width="3" height="9" fill="#000"/>
<rect x="395" y="2143" width="5" height="1419" fill="#000"/>
<rect x="2306" y="2143" width="5" height="1419" fill="#000"/>
<rect x="372" y="2143" width="1939" height="6" fill="#000"/>
<rect x="372" y="3556" width="1939" height="6" fill="#000"/>
<rect x="372" y="2207" width="24" height="6" fill="#000"/>
<rect x="372" y="2272" width="24" height="5" fill="#000"/>
<rect x="372" y="2336" width="24" height="5" fill="#000"/>
<rect x="372" y="2400" width="24" height="6" fill="#000"/>
<rect x="372" y="2464" width="24" height="6" fill="#000"/>
<rect x="372" y="2529" width="24" height="5" fill="#000"/>
<rect x="372" y="2593" width="24" height="5" fill="#000"/>
<rect x="372" y="2657" width="24" height="6" fill="#000"/>
<rect x="372" y="2721" width="24" height="6" fill="#000"/>
<rect x="372" y="2786" width="24" height="5" fill="#000"/>
<rect x="372" y="2850" width="24" height="5" fill="#000"/>
<rect x="372" y="2914" width="24" height="5" fill="#000"/>
<rect x="372" y="2978" width="24" height="6" fill="#000"/>
<rect x="372" y="3042" width="24" height="6" fill="#000"/>
<rect x="372" y="3107" width="24" height="5" fill="#000"/>
<rect x="372" y="3171" width="24" height="5" fill="#000"/>
<rect x="372" y="3235" width="24" height="6" fill="#000"/>
<rect x="372" y="3299" width="24" height="6" fill="#000"/>
<rect x="372" y="3364" width="24" height="5" fill="#000"/>
<rect x="372" y="3428" width="24" height="5" fill="#000"/>
<rect x="372" y="3492" width="24" height="6" fill="#000"/>
<rect x="385" y="2188" width="11" height="6" fill="#000"/>
<rect x="385" y="2177" width="11" height="5" fill="#000"/>
<rect x="385" y="2169" width="11" height="5" fill="#000"/>
<rect x="385" y="2162" width="11" height="6" fill="#000"/>
<rect x="385" y="2157" width="11" height="6" fill="#000"/>
<rect x="385" y="2153" width="11" height="6" fill="#000"/>
<rect x="385" y="2149" width="11" height="6" fill="#000"/>
<rect x="385" y="2146" width="11" height="6" fill="#000"/>
<rect x="385" y="2252" width="11" height="6" fill="#000"/>
<rect x="385" y="2241" width="11" height="6" fill="#000"/>
<rect x="385" y="2233" width="11" height="6" fill="#000"/>
<rect x="385" y="2227" width="11" height="5" fill="#000"/>
<rect x="385" y="2222" width="11" height="5" fill="#000"/>
<rect x="385" y="2217" width="11" height="6" fill="#000"/>
<rect x="385" y="2214" width="11" height="5" fill="#000"/>
<rect x="385" y="2210" width="11" height="6" fill="#000"/>
<rect x="385" y="2316" width="11" height="6" fill="#000"/>
<rect x="385" y="2305" width="11" height="6" fill="#000"/>
<rect x="385" y="2297" width="11" height="6" fill="#000"/>
<rect x="385" y="2291" width="11" height="6" fill="#000"/>
<rect x="385" y="2286" width="11" height="6" fill="#000"/>
<rect x="385" y="2282" width="11" height="5" fill="#000"/>
<rect x="385" y="2278" width="11" height="6" fill="#000"/>
<rect x="385" y="2274" width="11" height="6" fill="#000"/>
<rect x="385" y="2381" width="11" height="5" fill="#000"/>
<rect x="385" y="2369" width="11" height="6" fill="#000"/>
<rect x="385" y="2361" width="11" height="6" fill="#000"/>
<rect x="385" y="2355" width="11" height="6" fill="#000"/>
<rect x="385" y="2350" width="11" height="6" fill="#000"/>
<rect x="385" y="2346" width="11" height="6" fill="#000"/>
<rect x="385" y="2342" width="11" height="6" fill="#000"/>
<rect x="385" y="2339" width="11" height="6" fill="#000"/>
<rect x="385" y="2445" width="11" height="6" fill="#000"/>
<rect x="385" y="2434" width="11" height="5" fill="#000"/>
<rect x="385" y="2426" width="11" height="5" fill="#000"/>
<rect x="385" y="2419" width="11" height="6" fill="#000"/>
<rect x="385" y="2414" width="11" height="6" fill="#000"/>
<rect x="385" y="2410" width="11" height="6" fill="#000"/>
<rect x="385" y="2406" width="11" height="6" fill="#000"/>
<rect x="385" y="2403" width="11" height="6" fill="#000"/>
<rect x="385" y="2509" width="11" height="6" fill="#000"/>
<rect x="385" y="2498" width="11" height="6" fill="#000"/>
<rect x="385" y="2490" width="11" height="6" fill="#000"/>
<rect x="385" y="2484" width="11" height="5" fill="#000"/>
<rect x="385" y="2478" width="11" height="6" fill="#000"/>
<rect x="385" y="2474" width="11" height="6" fill="#000"/>
<rect x="385" y="2470" width="11" height="6" fill="#000"/>
<rect x="385" y="2467" width="11" height="6" fill="#000"/>
<rect x="385" y="2573" width="11" height="6" fill="#000"/>
<rect x="385" y="2562" width="11" height="6" fill="#000"/>
<rect x="385" y="2554" width="11" height="6" fill="#000"/>
<rect x="385" y="2548" width="11" height="6" fill="#000"/>
<rect x="385" y="2543" width="11" height="6" fill="#000"/>
<rect x="385" y="2538" width="11" height="6" fill="#000"/>
<rect x="385" y="2535" width="11" height="5" fill="#000"/>
<rect x="385" y="2531" width="11" height="6" fill="#000"/>
<rect x="385" y="2638" width="11" height="5" fill="#000"/>
<rect x="385" y="2626" width="11" height="6" fill="#000"/>
<rect x="385" y="2618" width="11" height="6" fill="#000"/>
<rect x="385" y="2612" width="11" height="6" fill="#000"/>
<rect x="385" y="2607" width="11" height="6" fill="#000"/>
<rect x="385" y="2603" width="11" height="5" fill="#000"/>
<rect x="385" y="2599" width="11" height="6" fill="#000"/>
<rect x="385" y="2596" width="11" height="5" fill="#000"/>
<rect x="385" y="2702" width="11" height="6" fill="#000"/>
<rect x="385" y="2690" width="11" height="6" fill="#000"/>
<rect x="385" y="2682" width="11" height="6" fill="#000"/>
<rect x="385" y="2676" width="11" height="6" fill="#000"/>
<rect x="385" y="2671" width="11" height="6" fill="#000"/>
<rect x="385" y="2667" width="11" height="6" fill="#000"/>
<rect x="385" y="2663" width="11" height="6" fill="#000"/>
<rect x="385" y="2660" width="11" height="6" fill="#000"/>
<rect x="385" y="2766" width="11" height="6" fill="#000"/>
<rect x="385" y="2755" width="11" height="6" fill="#000"/>
<rect x="385" y="2747" width="11" height="6" fill="#000"/>
<rect x="385" y="2740" width="11" height="6" fill="#000"/>
<rect x="385" y="2735" width="11" height="6" fill="#000"/>
<rect x="385" y="2731" width="11" height="6" fill="#000"/>
<rect x="385" y="2727" width="11" height="6" fill="#000"/>
<rect x="385" y="2724" width="11" height="6" fill="#000"/>
<rect x="385" y="2830" width="11" height="6" fill="#000"/>
<rect x="385" y="2819" width="11" height="6" fill="#000"/>
<rect x="385" y="2811" width="11" height="6" fill="#000"/>
<rect x="385" y="2805" width="11" height="6" fill="#000"/>
<rect x="385" y="2800" width="11" height="5" fill="#000"/>
<rect x="385" y="2795" width="11" height="6" fill="#000"/>
<rect x="385" y="2792" width="11" height="5" fill="#000"/>
<rect x="385" y="2788" width="11" height="6" fill="#000"/>
<rect x="385" y="2894" width="11" height="6" fill="#000"/>
<rect x="385" y="2883" width="11" height="6" fill="#000"/>
<rect x="385" y="2875" width="11" height="6" fill="#000"/>
<rect x="385" y="2869" width="11" height="6" fill="#000"/>
<rect x="385" y="2864" width="11" height="6" fill="#000"/>
<rect x="385" y="2860" width="11" height="5" fill="#000"/>
<rect x="385" y="2856" width="11" height="6" fill="#000"/>
<rect x="385" y="2853" width="11" height="5" fill="#000"/>
<rect x="385" y="2959" width="11" height="6" fill="#000"/>
<rect x="385" y="2947" width="11" height="6" fill="#000"/>
<rect x="385" y="2939" width="11" height="6" fill="#000"/>
<rect x="385" y="2933" width="11" height="6" fill="#000"/>
<rect x="385" y="2928" width="11" height="6" fill="#000"/>
<rect x="385" y="2924" width="11" height="6" fill="#000"/>
<rect x="385" y="2920" width="11" height="6" fill="#000"/>
<rect x="385" y="2917" width="11" height="6" fill="#000"/>
<rect x="385" y="3023" width="11" height="6" fill="#000"/>
<rect x="385" y="3012" width="11" height="5" fill="#000"/>
<rect x="385" y="3004" width="11" height="5" fill="#000"/>
<rect x="385" y="2997" width="11" height="6" fill="#000"/>
<rect x="385" y="2992" width="11" height="6" fill="#000"/>
<rect x="385" y="2988" width="11" height="6" fill="#000"/>
<rect x="385" y="2984" width="11" height="6" fill="#000"/>
<rect x="385" y="2981" width="11" height="6" fill="#000"/>
<rect x="385" y="3087" width="11" height="6" fill="#000"/>
<rect x="385" y="3076" width="11" height="6" fill="#000"/>
<rect x="385" y="3068" width="11" height="6" fill="#000"/>
<rect x="385" y="3062" width="11" height="5" fill="#000"/>
<rect x="385" y="3057" width="11" height="5" fill="#000"/>
<rect x="385" y="3052" width="11" height="6" fill="#000"/>
<rect x="385" y="3049" width="11" height="5" fill="#000"/>
<rect x="385" y="3045" width="11" height="6" fill="#000"/>
<rect x="385" y="3151" width="11" height="6" fill="#000"/>
<rect x="385" y="3140" width="11" height="6" fill="#000"/>
<rect x="385" y="3132" width="11" height="6" fill="#000"/>
<rect x="385" y="3126" width="11" height="6" fill="#000"/>
<rect x="385" y="3121" width="11" height="6" fill="#000"/>
<rect x="385" y="3116" width="11" height="6" fill="#000"/>
<rect x="385" y="3113" width="11" height="6" fill="#000"/>
<rect x="385" y="3109" width="11" height="6" fill="#000"/>
<rect x="385" y="3216" width="11" height="5" fill="#000"/>
<rect x="385" y="3204" width="11" height="6" fill="#000"/>
<rect x="385" y="3196" width="11" height="6" fill="#000"/>
<rect x="385" y="3190" width="11" height="6" fill="#000"/>
<rect x="385" y="3185" width="11" height="6" fill="#000"/>
<rect x="385" y="3181" width="11" height="5" fill="#000"/>
<rect x="385" y="3177" width="11" height="6" fill="#000"/>
<rect x="385" y="3174" width="11" height="5" fill="#000"/>
<rect x="385" y="3280" width="11" height="6" fill="#000"/>
<rect x="385" y="3269" width="11" height="5" fill="#000"/>
<rect x="385" y="3261" width="11" height="5" fill="#000"/>
<rect x="385" y="3254" width="11" height="6" fill="#000"/>
<rect x="385" y="3249" width="11" height="6" fill="#000"/>
<rect x="385" y="3245" width="11" height="6" fill="#000"/>
<rect x="385" y="3241" width="11" height="6" fill="#000"/>
<rect x="385" y="3238" width="11" height="6" fill="#000"/>
<rect x="385" y="3344" width="11" height="6" fill="#000"/>
<rect x="385" y="3333" width="11" height="6" fill="#000"/>
<rect x="385" y="3325" width="11" height="6" fill="#000"/>
<rect x="385" y="3319" width="11" height="5" fill="#000"/>
<rect x="385" y="3313" width="11" height="6" fill="#000"/>
<rect x="385" y="3309" width="11" height="6" fill="#000"/>
<rect x="385" y="3305" width="11" height="6" fill="#000"/>
<rect x="385" y="3302" width="11" height="6" fill="#000"/>
<rect x="385" y="3408" width="11" height="6" fill="#000"/>
<rect x="385" y="3397" width="11" height="6" fill="#000"/>
<rect x="385" y="3389" width="11" height="6" fill="#000"/>
<rect x="385" y="3383" width="11" height="6" fill="#000"/>
<rect x="385" y="3378" width="11" height="5" fill="#000"/>
<rect x="385" y="3373" width="11" height="6" fill="#000"/>
<rect x="385" y="3370" width="11" height="5" fill="#000"/>
<rect x="385" y="3366" width="11" height="6" fill="#000"/>
<rect x="385" y="3473" width="11" height="5" fill="#000"/>
<rect x="385" y="3461" width="11" height="6" fill="#000"/>
<rect x="385" y="3453" width="11" height="6" fill="#000"/>
<rect x="385" y="3447" width="11" height="6" fill="#000"/>
<rect x="385" y="3442" width="11" height="6" fill="#000"/>
<rect x="385" y="3438" width="11" height="5" fill="#000"/>
<rect x="385" y="3434" width="11" height="6" fill="#000"/>
<rect x="385" y="3431" width="11" height="5" fill="#000"/>
<rect x="385" y="3537" width="11" height="6" fill="#000"/>
<rect x="385" y="3525" width="11" height="6" fill="#000"/>
<rect x="385" y="3517" width="11" height="6" fill="#000"/>
<rect x="385" y="3511" width="11" height="6" fill="#000"/>
<rect x="385" y="3506" width="11" height="6" fill="#000"/>
<rect x="385" y="3502" width="11" height="6" fill="#000"/>
<rect x="385" y="3498" width="11" height="6" fill="#000"/>
<rect x="385" y="3495" width="11" height="6" fill="#000"/>
<rect x="395" y="3561" width="5" height="11" fill="#000"/>
<rect x="713" y="3561" width="6" height="11" fill="#000"/>
<rect x="1032" y="3561" width="6" height="11" fill="#000"/>
<rect x="1350" y="3561" width="6" height="11" fill="#000"/>
<rect x="1669" y="3561" width="6" height="11" fill="#000"/>
<rect x="1987" y="3561" width="6" height="11" fill="#000"/>
<rect x="2306" y="3561" width="5" height="11" fill="#000"/>
<rect x="554" y="3561" width="6" height="24" fill="#000"/>
<text transform="translate(535.56,3638.8) scale(1,1.05)" font-size="48.5" font-weight="bold" text-anchor="middle" letter-spacing="0.3">Control</text>
<rect x="872" y="3561" width="6" height="24" fill="#000"/>
<text transform="translate(854.07,3638.8) scale(1,1.05)" font-size="48.5" font-weight="bold" text-anchor="middle" letter-spacing="0.3">Zinc</text>
<text transform="translate(854.07,3700.3) scale(1,1.05)" font-size="48.5" font-weight="bold" text-anchor="middle" letter-spacing="0.3">acetate</text>
<rect x="1191" y="3561" width="6" height="24" fill="#000"/>
<text transform="translate(1172.59,3638.8) scale(1,1.05)" font-size="48.5" font-weight="bold" text-anchor="middle" letter-spacing="0.3">PVA-ALG</text>
<rect x="1509" y="3561" width="6" height="24" fill="#000"/>
<text transform="translate(1491.11,3638.8) scale(1,1.05)" font-size="48.5" font-weight="bold" text-anchor="middle" letter-spacing="0.3">APV-ALG</text>
<text transform="translate(1491.11,3700.3) scale(1,1.05)" font-size="48.5" font-weight="bold" text-anchor="middle" letter-spacing="0.3">-</text>
<text transform="translate(1491.11,3761.8) scale(1,1.05)" font-size="48.5" font-weight="bold" text-anchor="middle" letter-spacing="0.3">AgNPs</text>
<rect x="1828" y="3561" width="6" height="24" fill="#000"/>
<text transform="translate(1809.62,3638.8) scale(1,1.05)" font-size="48.5" font-weight="bold" text-anchor="middle" letter-spacing="0.3">PVA-ALG</text>
<text transform="translate(1809.62,3700.3) scale(1,1.05)" font-size="48.5" font-weight="bold" text-anchor="middle" letter-spacing="0.3">-c2-</text>
<text transform="translate(1809.62,3761.8) scale(1,1.05)" font-size="48.5" font-weight="bold" text-anchor="middle" letter-spacing="0.3">CNF-OH</text>
<rect x="2146" y="3561" width="6" height="24" fill="#000"/>
<text transform="translate(2128.14,3638.8) scale(1,1.05)" font-size="48.5" font-weight="bold" text-anchor="middle" letter-spacing="0.3">PVA-ALG</text>
<text transform="translate(2128.14,3700.3) scale(1,1.05)" font-size="48.5" font-weight="bold" text-anchor="middle" letter-spacing="0.3">-c2-</text>
<text transform="translate(2128.14,3761.8) scale(1,1.05)" font-size="48.5" font-weight="bold" text-anchor="middle" letter-spacing="0.3">CNF-ox-Ag</text>
<rect x="417" y="2156" width="820" height="96" fill="#000"/>
<rect x="420" y="2159" width="814" height="90" fill="#fff"/>
<rect x="426" y="2165" width="153" height="78" fill="#000"/>
<rect x="430" y="2170" width="145" height="69" fill="#c0c0c0"/>
<rect x="666" y="2165" width="153" height="78" fill="#000"/>
<rect x="670" y="2170" width="145" height="69" fill="#808080"/>
<rect x="925" y="2165" width="153" height="78" fill="#000"/>
<rect x="929" y="2170" width="145" height="69" fill="#000000"/>
<text transform="translate(598,2227.4) scale(1,1.0407)" font-size="67.5">t0</text>
<text transform="translate(837,2227.4) scale(1,1.0407)" font-size="67.5" class="tk" clip-path="url(#lg)">1h</text>
<text transform="translate(1096,2227.4) scale(1,1.0407)" font-size="67.5">24 h</text>
</g>
</svg></body></html>
